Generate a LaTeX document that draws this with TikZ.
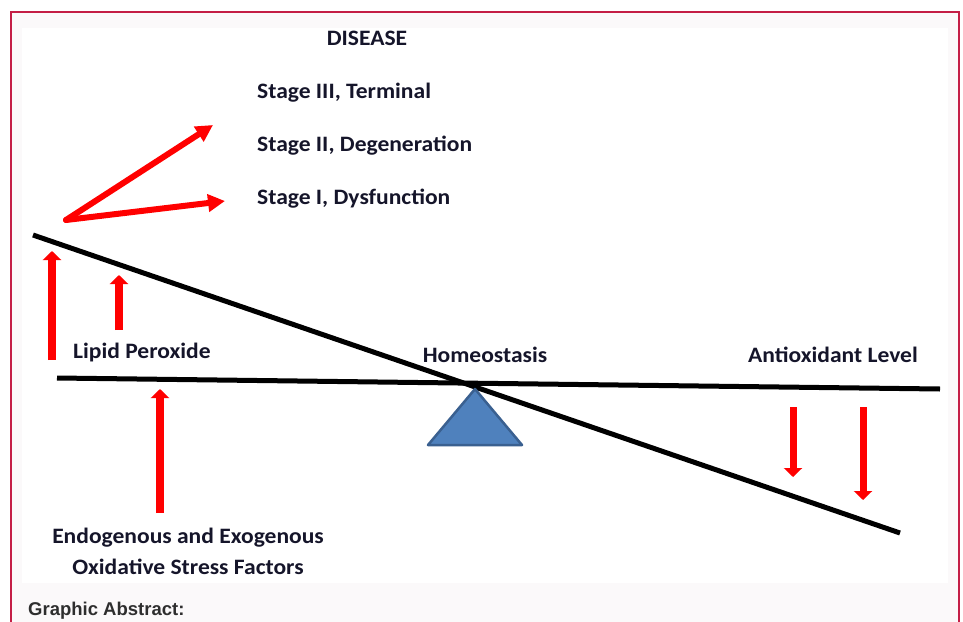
\documentclass[tikz,border=0pt]{standalone}
\usepackage{fontspec}
\setmainfont{Carlito}[FakeStretch=1.07]
\newfontfamily\arialfont{Liberation Sans}
\usetikzlibrary{arrows.meta}
\definecolor{frameRed}{HTML}{C41E46}
\definecolor{paleBg}{HTML}{FBF9FA}
\definecolor{txtDark}{HTML}{15152A}
\definecolor{triFill}{HTML}{4F81BD}
\definecolor{triLine}{HTML}{3A6090}
\definecolor{capGray}{HTML}{2E2E2E}
\tikzset{
  lbl/.style={font=\fontsize{22}{24}\selectfont\bfseries, text=txtDark, inner sep=0pt},
  beam/.style={line width=5pt, black},
  redup/.style={draw=red, line width=8pt, -{Triangle[width=18pt,length=9pt]}},
  reddiag/.style={draw=red, line width=6pt, line cap=round, -{Triangle[width=17pt,length=17pt]}},
}
\begin{document}
\begin{tikzpicture}[x=1pt,y=-1pt]
\useasboundingbox (0,0) rectangle (963,621);
\fill[white] (0,0) rectangle (963,621);
\fill[paleBg] (11,12) rectangle (959,640);
\fill[white] (22,28) rectangle (948,583);
\draw[frameRed, line width=1.5pt] (11,640) -- (11,12) -- (959,12) -- (959,640);

% beams
\coordinate (hL) at (57,378);
\coordinate (hR) at (940,389);
\coordinate (tL) at (33,235);
\coordinate (tR) at (900,533);
\draw[beam] (hL) -- (hR);
\draw[beam] (tL) -- (tR);

% fulcrum
\coordinate (apex) at (475,389);
\coordinate (bl) at (428,445);
\coordinate (br) at (522,445);
\filldraw[fill=triFill, draw=triLine, line width=2.5pt, line join=round] (apex) -- (br) -- (bl) -- cycle;

% texts
\node[lbl, anchor=base] (disease) at (367,45) {DISEASE};
\node[lbl, anchor=base west] (s3) at (257,98) {Stage III, Terminal};
\node[lbl, anchor=base west] (s2) at (257,151) {Stage II, Degeneration};
\node[lbl, anchor=base west] (s1) at (257,204) {Stage I, Dysfunction};
\node[lbl, anchor=base west] (lipid) at (73,358) {Lipid Peroxide};
\node[lbl, anchor=base] (homeo) at (485,362) {Homeostasis};
\node[lbl, anchor=base] (antiox) at (833,362) {Antioxidant Level};
\node[lbl, anchor=base] (endo) at (188,543) {Endogenous and Exogenous};
\node[lbl, anchor=base] (oxid) at (188,574) {Oxidative Stress Factors};
\node[inner sep=0pt, anchor=base west, text=capGray, font=\arialfont\fontsize{18.5}{20}\selectfont\bfseries] (ga) at (28,615) {Graphic Abstract:};

% diverging arrows
\coordinate (dv) at (66,220);
\coordinate (dvU) at (213,125);
\coordinate (dvL) at (225,201);
\draw[reddiag] (dv) -- (dvU);
\draw[reddiag] (dv) -- (dvL);

% vertical arrows
\coordinate (u1a) at (52,360);
\coordinate (u1b) at (52,251);
\coordinate (u2a) at (119,330);
\coordinate (u2b) at (119,275);
\coordinate (u3a) at (160,513);
\coordinate (u3b) at (160,389);
\coordinate (d1a) at (793,407);
\coordinate (d1b) at (793,477);
\coordinate (d2a) at (863,407);
\coordinate (d2b) at (863,500);
\draw[redup] (u1a) -- (u1b);
\draw[redup] (u2a) -- (u2b);
\draw[redup] (u3a) -- (u3b);
\draw[redup, line width=7pt] (d1a) -- (d1b);
\draw[redup, line width=7pt] (d2a) -- (d2b);
\end{tikzpicture}
\end{document}
